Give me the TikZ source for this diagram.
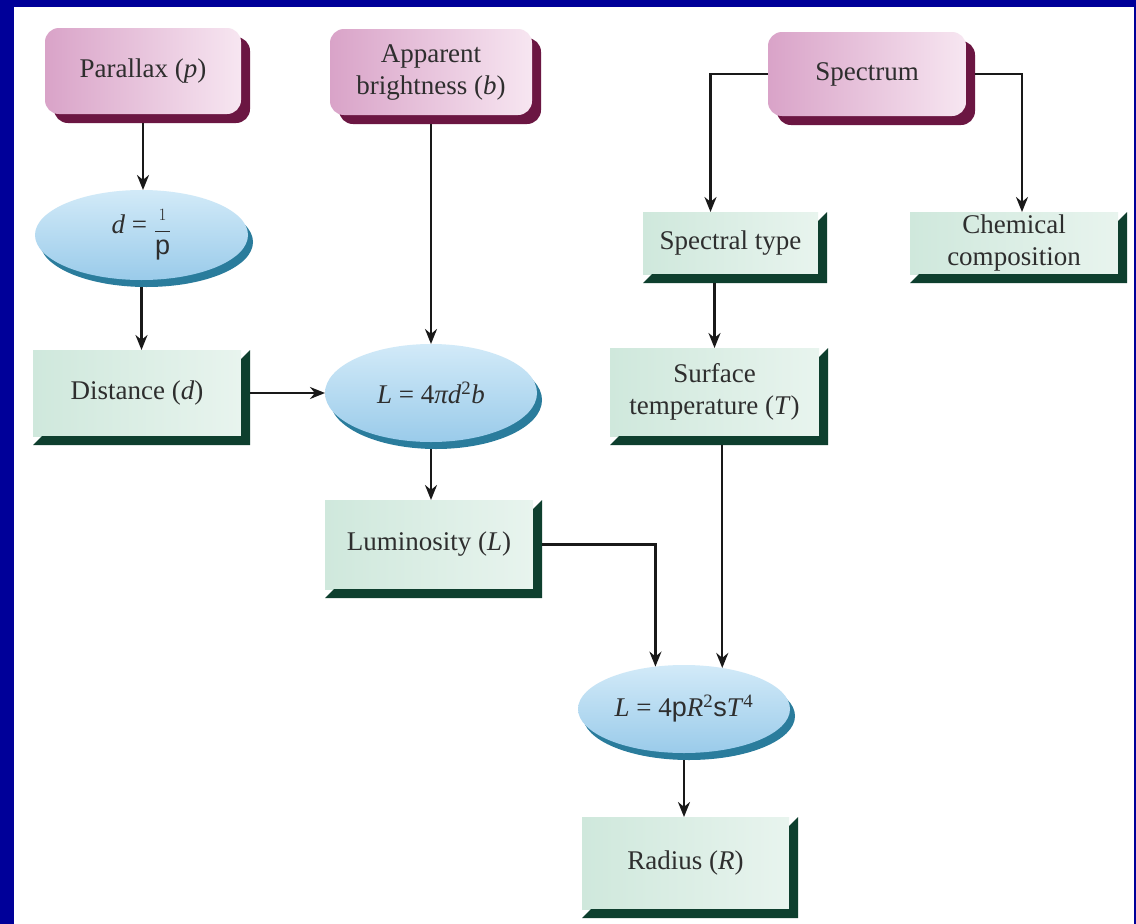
\documentclass[tikz,border=0pt]{standalone}
\usepackage{fontspec}
\setmainfont{Liberation Serif}
\setsansfont{Liberation Sans}
\usetikzlibrary{shapes.geometric,arrows.meta,calc}
\definecolor{frameblue}{HTML}{000099}
\definecolor{pinkL}{HTML}{D9A3C8}
\definecolor{pinkR}{HTML}{F7E6F1}
\definecolor{maroonsh}{HTML}{6B1642}
\definecolor{mintL}{HTML}{CFE8DC}
\definecolor{mintR}{HTML}{E8F4EE}
\definecolor{dkgreen}{HTML}{0E3F2E}
\definecolor{bluL}{HTML}{D2EAF8}
\definecolor{bluR}{HTML}{9ACBEA}
\definecolor{rimblue}{HTML}{2A7C9C}
\newcommand\bevelbox[1]{\fill[dkgreen] ([yshift=-9pt]#1.north east) -- ([xshift=9pt]#1.north east) -- ([xshift=9pt,yshift=-9pt]#1.south east) -- ([yshift=-9pt]#1.south west) -- ([xshift=9pt]#1.south west) -- (#1.south east) -- cycle;}
\begin{document}
\begin{tikzpicture}[x=1pt,y=-1pt,
  txt/.style={font=\fontsize{27}{32}\selectfont, text=black!82, align=center, inner sep=0pt, outer sep=0pt},
  pinkbox/.style={txt, rectangle, rounded corners=14pt, left color=pinkL, right color=pinkR,
     preaction={fill=maroonsh, transform canvas={shift={(9pt,-9pt)}}}},
  greenbox/.style={txt, rectangle, left color=mintL, right color=mintR},
  ellbox/.style={txt, ellipse, top color=bluL, bottom color=bluR,
     preaction={fill=rimblue, transform canvas={shift={(5pt,-7pt)}}}},
  arr/.style={draw=black!90, line width=2.4pt, -{Stealth[length=15pt,width=12pt]}}
]
\useasboundingbox (0,0) rectangle (1136,924);
\fill[frameblue] (0,0) rectangle (1136,924);
\fill[white] (14,7) rectangle (1134,924);

% pink source boxes
\node[pinkbox, minimum width=196pt, minimum height=86pt] (par) at (143,71) {Parallax (\textit{p})};
\node[pinkbox, minimum width=202pt, minimum height=86pt] (app) at (431,72) {Apparent\\brightness (\textit{b})};
\node[pinkbox, minimum width=198pt, minimum height=84pt] (spec) at (867,74) {Spectrum};

% green boxes
\node[greenbox, minimum width=208pt, minimum height=86pt] (dist) at (137,393) {Distance (\textit{d})};
\node[greenbox, minimum width=175pt, minimum height=62pt] (stype) at (730.5,243) {Spectral type};
\node[greenbox, minimum width=208pt, minimum height=62pt] (chem) at (1014,243) {Chemical\\composition};
\node[greenbox, minimum width=209pt, minimum height=88pt] (stemp) at (714.5,392) {Surface\\temperature (\textit{T})};
\node[greenbox, minimum width=208pt, minimum height=89pt] (lum) at (429,544.5) {Luminosity (\textit{L})};
\node[greenbox, minimum width=207pt, minimum height=92pt] (rad) at (685.5,863) {Radius (\textit{R})};
\bevelbox{dist}
\bevelbox{stype}
\bevelbox{chem}
\bevelbox{stemp}
\bevelbox{lum}
\bevelbox{rad}

% ellipses
\node[ellbox, minimum width=213pt, minimum height=90pt] (dell) at (141.5,235)
  {\textit{d} = \raisebox{-4pt}{$\displaystyle\frac{\scriptstyle 1}{\mbox{\textsf{p}}}$}};
\node[ellbox, minimum width=212pt, minimum height=98pt] (lell) at (431,393)
  {\textit{L} = 4\textit{πd}\textsuperscript{2}\textit{b}};
\node[ellbox, minimum width=212pt, minimum height=88pt] (lower) at (684,709)
  {\textit{L} = 4\textsf{p}\textit{R}\textsuperscript{2}\textsf{s}\textit{T}\textsuperscript{4}};

% connectors
\draw[arr] ([yshift=-9pt]par.south) -- (par.south |- dell.north);
\draw[arr] ([yshift=-7pt]dell.south) -- (dell.south |- dist.north);
\draw[arr] ([yshift=-9pt]app.south) -- (app.south |- lell.north);
\draw[arr] ([xshift=9pt]dist.east) -- (lell.west);
\draw[arr] ([yshift=-7pt]lell.south) -- (lell.south |- lum.north);
\draw[arr] ([xshift=9pt]lum.east) -| (lower.124);
\draw[arr] ($(stemp.south -| lower.47)+(0,9)$) -- (lower.47);
\draw[arr] ($(stype.south -| stemp.north)+(0,9)$) -- (stemp.north);
\draw[arr] ([yshift=-7pt]lower.south) -- (lower.south |- rad.north);
\draw[arr] (spec.west) -| ([xshift=-20pt]stype.north);
\draw[arr] ([xshift=9pt]spec.east) -| ([xshift=8pt]chem.north);
\end{tikzpicture}
\end{document}
